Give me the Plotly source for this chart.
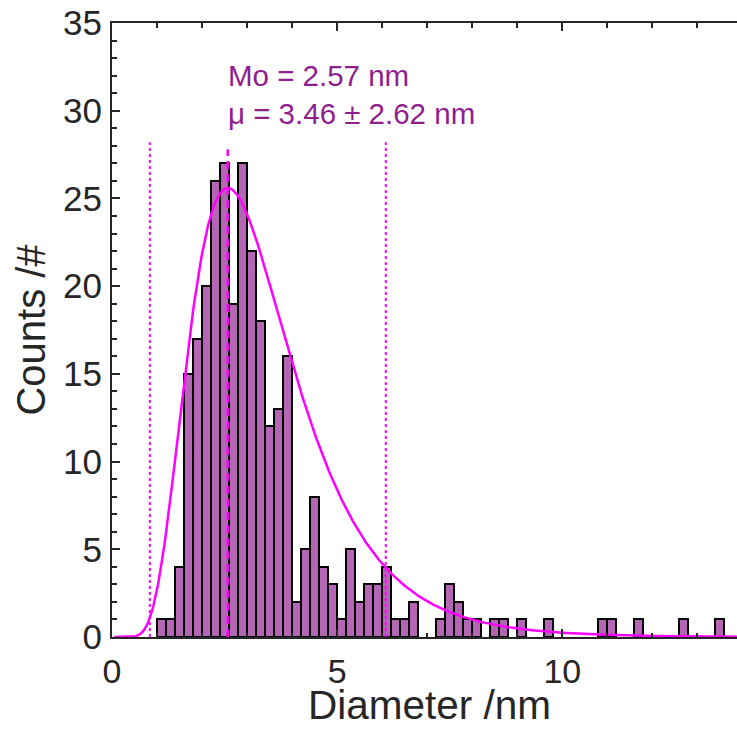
import numpy as np
import plotly.graph_objects as go

# Histogram bins (left edges, nm) and counts
bin_left = [1.0, 1.2, 1.4, 1.6, 1.8, 2.0, 2.2, 2.4, 2.6, 2.8, 3.0, 3.2, 3.4, 3.6, 3.8,
            4.0, 4.2, 4.4, 4.6, 4.8, 5.0, 5.2, 5.4, 5.6, 5.8, 6.0, 6.2, 6.4, 6.6,
            7.2, 7.4, 7.6, 7.8, 8.0, 8.4, 8.6, 9.0, 9.6, 10.8, 11.0, 11.6, 12.6, 13.4]
counts = [1, 1, 4, 15, 17, 20, 26, 27, 19, 27, 22, 18, 12, 13, 16,
          2, 5, 8, 4, 3, 1, 5, 2, 3, 3, 4, 1, 1, 2,
          1, 3, 2, 1, 1, 1, 1, 1, 1, 1, 1, 1, 1, 1]
bin_width = 0.2

# Fit statistics shown on the chart
mode_nm = 2.57
mean_nm = 3.46
std_nm = 2.62
peak_count = 25.6

x_ticks = [0, 5, 10]
y_ticks = [0, 5, 10, 15, 20, 25, 30, 35]

# log-normal fit curve from mode and mean
sig2 = np.log(mean_nm / mode_nm) / 1.5
mu = np.log(mode_nm) + sig2
xc = np.linspace(0.05, 13.9, 800)
def lnpdf(x):
    return np.exp(-(np.log(x) - mu) ** 2 / (2 * sig2)) / x
yc = peak_count * lnpdf(xc) / lnpdf(mode_nm)

centers = [b + bin_width / 2 for b in bin_left]

fig = go.Figure()
fig.add_trace(go.Bar(x=centers, y=counts, width=bin_width,
                     marker=dict(color="#B466B4", line=dict(color="black", width=2)),
                     showlegend=False))
fig.add_trace(go.Scatter(x=xc, y=yc, mode="lines",
                         line=dict(color="#FF00FF", width=2.5), showlegend=False))
fig.add_trace(go.Scatter(x=[mode_nm, mode_nm], y=[0, 27.8], mode="lines",
                         line=dict(color="#FF00FF", width=2.5, dash="8px,5px"), showlegend=False))
for xv in [mean_nm - std_nm, mean_nm + std_nm]:
    fig.add_trace(go.Scatter(x=[xv, xv], y=[0, 28.2], mode="lines",
                             line=dict(color="#FF00FF", width=2, dash="dot"), showlegend=False))

txt_col = "#8E1E8E"
fig.add_annotation(x=mode_nm, y=32.0, text="Mo = 2.57 nm", showarrow=False,
                   xanchor="left", yanchor="middle", xshift=-2,
                   font=dict(size=29.5, color=txt_col))
fig.add_annotation(x=mode_nm, y=29.85, text="μ = 3.46 ± 2.62 nm", showarrow=False,
                   xanchor="left", yanchor="middle", xshift=-2,
                   font=dict(size=29.5, color=txt_col))

axis_col = "#262626"
# x-axis title as a paper-anchored annotation
fig.add_annotation(x=0.5, xref="paper", y=-0.111, yref="paper", text="Diameter /nm",
                   showarrow=False, xanchor="center", yanchor="middle", xshift=5,
                   font=dict(size=40.5, color=axis_col))

fig.update_layout(
    width=737, height=743,
    margin=dict(l=112, r=0, t=23, b=106),
    paper_bgcolor="white", plot_bgcolor="white",
    font=dict(family="Liberation Sans, Arial, sans-serif", color=axis_col),
    bargap=0,
)
fig.update_xaxes(range=[0, 13.88], tickvals=x_ticks, ticks="inside", ticklen=8, tickwidth=2,
                 tickcolor=axis_col, showline=True, linecolor=axis_col, linewidth=2,
                 mirror="ticks", showgrid=False, zeroline=False,
                 tickfont=dict(size=34, color=axis_col), ticklabelstandoff=3,
                 minor=dict(dtick=1, ticks="inside", ticklen=4.5, tickwidth=2, tickcolor=axis_col, showgrid=False))
fig.update_yaxes(range=[0, 35], tickvals=y_ticks, ticks="inside", ticklen=8, tickwidth=2,
                 tickcolor=axis_col, showline=True, linecolor=axis_col, linewidth=2,
                 showgrid=False, zeroline=False,
                 tickfont=dict(size=35, color=axis_col), ticklabelstandoff=1,
                 minor=dict(dtick=1, ticks="inside", ticklen=4.5, tickwidth=2, tickcolor=axis_col, showgrid=False),
                 title=dict(text="Counts /#", font=dict(size=40, color=axis_col), standoff=5))

fig.write_html("out.html")
